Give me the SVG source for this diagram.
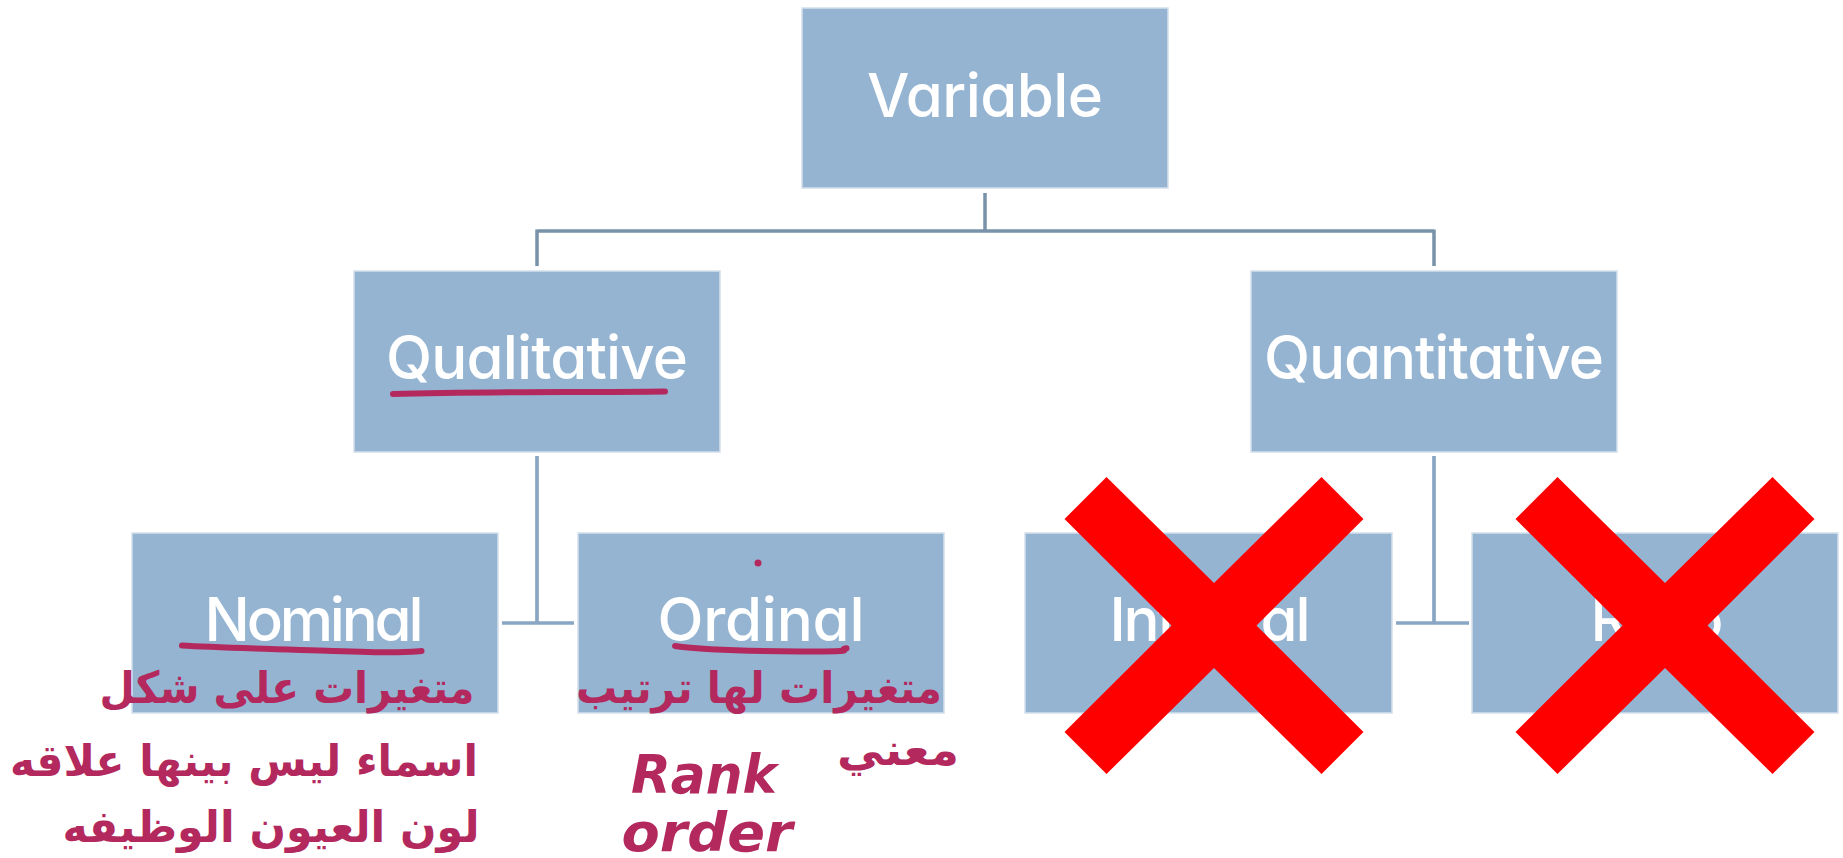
<svg xmlns="http://www.w3.org/2000/svg" xmlns:xlink="http://www.w3.org/1999/xlink" width="1843" height="858" viewBox="0 0 1843 858">
  <style>
    .box { fill: #95B4D2; stroke: #D3E0EC; stroke-width: 1.5; }
    .label { font-family: Inter, "Liberation Sans", sans-serif; font-feature-settings: "cv11"; font-weight: 500; font-size: 60px; fill: #ffffff; text-anchor: middle; }
    .link-top { fill: none; stroke: #7892AA; stroke-width: 3.5; }
    .link-sub { fill: none; stroke: #89A7C4; stroke-width: 3.7; }
    .ink { fill: none; stroke: #B3295E; stroke-width: 6; stroke-linecap: round; stroke-linejoin: round; }
    .note { font-family: "DejaVu Sans", "Noto Sans", sans-serif; font-weight: bold; fill: #B3295E; text-anchor: middle; }
    .note-latin { font-family: "DejaVu Sans", sans-serif; font-style: italic; font-weight: bold; fill: #B3295E; text-anchor: middle; }
    .cross { fill: #FF0000; }
  </style>
  <defs>
    <!-- big red "X", centred on 0,0 -->
    <polygon id="cross" class="cross" points="-107.5,-148.5 0,-42.5 107.5,-148.5 149.5,-106.5 42.5,0 149.5,106.5 107.5,148.5 0,42.5 -107.5,148.5 -149.5,106.5 -42.5,0 -149.5,-106.5"/>
  </defs>

  <rect width="1843" height="858" fill="#ffffff"/>

  <!-- tree connectors -->
  <g id="connectors">
    <path class="link-top" d="M985,193 V231 M537,231 H1434 M537,229.5 V266 M1434,229.5 V266"/>
    <path class="link-sub" d="M537,456 V623 M502,623 H574"/>
    <path class="link-sub" d="M1434,456 V623 M1396,623 H1469"/>
  </g>

  <g id="node-variable">
    <rect class="box" x="802" y="8" width="366" height="180"/>
    <text class="label" x="985" y="117" textLength="236">Variable</text>
  </g>

  <g id="node-qualitative">
    <rect class="box" x="354" y="271" width="366" height="181"/>
    <text class="label" x="537" y="379" textLength="302">Qualitative</text>
  </g>

  <g id="node-quantitative">
    <rect class="box" x="1251" y="271" width="366" height="181"/>
    <text class="label" x="1434" y="379" textLength="340">Quantitative</text>
  </g>

  <g id="node-nominal">
    <rect class="box" x="132" y="533" width="366" height="180"/>
    <text class="label" x="314" y="641" textLength="219">Nominal</text>
  </g>

  <g id="node-ordinal">
    <rect class="box" x="578" y="533" width="366" height="180"/>
    <text class="label" x="761" y="641" textLength="207">Ordinal</text>
  </g>

  <g id="node-interval">
    <rect class="box" x="1025" y="533" width="367" height="180"/>
    <text class="label" x="1210" y="641" textLength="201">Interval</text>
  </g>

  <g id="node-ratio">
    <rect class="box" x="1472" y="533" width="366" height="180"/>
    <text class="label" x="1657" y="641" textLength="133">Ratio</text>
  </g>

  <!-- handwritten annotations -->
  <g id="annotations">
    <path class="ink" d="M393,394 C480,391.5 580,392.5 665,391.5"/>
    <path class="ink" d="M182,645.5 C215,647.5 270,649 333,651 S400,652.5 421.5,651"/>
    <path class="ink" d="M675,646 C700,649.5 733,651 800,651.5 S835,649.5 846.5,648.3"/>
    <circle cx="758" cy="563" r="3.5" fill="#B3295E"/>

    <text class="note" x="287" y="703" font-size="44" textLength="375" lengthAdjust="spacingAndGlyphs">متغيرات على شكل</text>
    <text class="note" x="244" y="776" font-size="44" textLength="468" lengthAdjust="spacingAndGlyphs">اسماء ليس بينها علاقه</text>
    <text class="note" x="271" y="842" font-size="44" textLength="417" lengthAdjust="spacingAndGlyphs">لون العيون   الوظيفه</text>

    <text class="note" x="759" y="703" font-size="44" textLength="366" lengthAdjust="spacingAndGlyphs">متغيرات لها ترتيب</text>
    <text class="note" x="898" y="765" font-size="44" textLength="122" lengthAdjust="spacingAndGlyphs">معني</text>
    <text class="note-latin" x="704" y="793" font-size="54" textLength="146" lengthAdjust="spacingAndGlyphs">Rank</text>
    <text class="note-latin" x="707" y="851" font-size="54" textLength="171" lengthAdjust="spacingAndGlyphs">order</text>
  </g>

  <!-- crossed-out levels -->
  <g id="crosses">
    <use xlink:href="#cross" x="1214" y="625.5"/>
    <use xlink:href="#cross" x="1665" y="625.5"/>
  </g>
</svg>
